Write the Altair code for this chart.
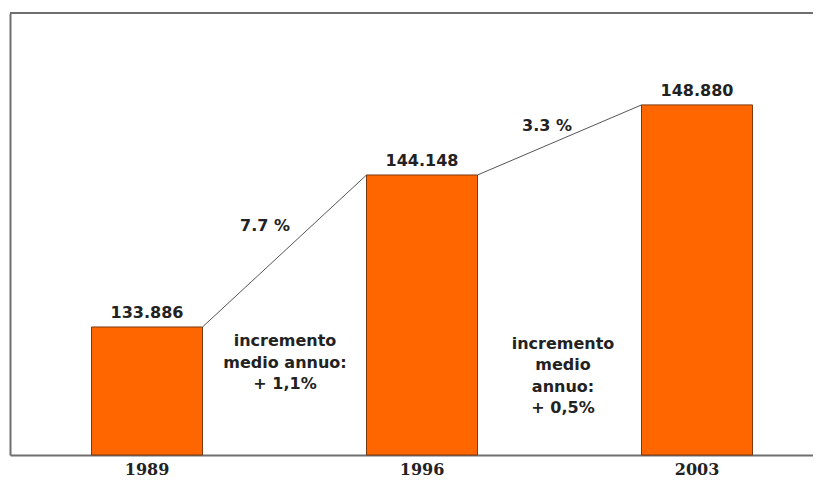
import altair as alt
import pandas as pd

years = ["1989", "1996", "2003"]
values = [133886, 144148, 148880]
value_labels = ["133.886", "144.148", "148.880"]

pct_labels = ["7.7 %", "3.3 %"]
pct_y = [140700, 147450]
pct_dx = [118, 125]

incr_labels = ["incremento\nmedio annuo:\n+ 1,1%", "incremento\nmedio\nannuo:\n+ 0,5%"]
incr_y = [132940, 132740]
incr_dx = [138, 141]

Y_MIN, Y_MAX = 125244, 155085
W, H = 803, 442
bars_df = pd.DataFrame({"year": years, "value": values, "label": value_labels})
seg_df = pd.DataFrame({
    "year": years[:-1], "year2": years[1:],
    "value": values[:-1], "value2": values[1:],
})

xscale = alt.Scale(domain=years, paddingInner=0.5964, paddingOuter=0.2582, align=0.574)
yscale = alt.Scale(domain=[Y_MIN, Y_MAX], zero=False, nice=False)

FONT = "DejaVu Sans"

x_enc = alt.X("year:N", scale=xscale, sort=years,
              axis=alt.Axis(title=None, ticks=False, labelAngle=0,
                            labelFont="DejaVu Serif", labelFontWeight="bold",
                            labelFontSize=16, labelColor="#222222", labelPadding=6,
                            domainColor="#6f6f6f", domainWidth=2))
y_enc = alt.Y("value:Q", scale=yscale,
              axis=alt.Axis(title=None, labels=False, ticks=False, grid=False,
                            domainColor="#6f6f6f", domainWidth=2))

bars = alt.Chart(bars_df).mark_bar(color="#ff6600", stroke="#7a3a10", strokeWidth=1).encode(
    x=x_enc, y=y_enc, y2=alt.datum(Y_MIN)
)

labels = alt.Chart(bars_df).mark_text(font=FONT, fontWeight="bold", fontSize=16,
                                      color="#222222", baseline="alphabetic", dy=-9).encode(
    x=alt.X("year:N", scale=xscale, sort=years), y=alt.Y("value:Q", scale=yscale), text="label:N"
)

segs = alt.Chart(seg_df).mark_rule(color="#555555", strokeWidth=1, xOffset=55.5, x2Offset=-55.5).encode(
    x=alt.X("year:N", scale=xscale, sort=years), x2="year2:N",
    y=alt.Y("value:Q", scale=yscale), y2="value2:Q"
)

layers = [bars, segs, labels]
for i in range(2):
    d = pd.DataFrame({"year": [years[i]], "y": [pct_y[i]], "t": [pct_labels[i]]})
    layers.append(alt.Chart(d).mark_text(font=FONT, fontWeight="bold", fontSize=16, color="#222222",
                                         baseline="middle", dx=pct_dx[i]).encode(
        x=alt.X("year:N", scale=xscale, sort=years), y=alt.Y("y:Q", scale=yscale), text="t:N"))
    d2 = pd.DataFrame({"year": [years[i]], "y": [incr_y[i]], "t": [incr_labels[i]]})
    layers.append(alt.Chart(d2).mark_text(font=FONT, fontWeight="bold", fontSize=16, color="#222222",
                                          baseline="middle", lineBreak="\n", lineHeight=21.5,
                                          dx=incr_dx[i]).encode(
        x=alt.X("year:N", scale=xscale, sort=years), y=alt.Y("y:Q", scale=yscale), text="t:N"))

top_line = alt.Chart(bars_df).mark_rule(color="#6f6f6f", strokeWidth=2).encode(
    x=alt.value(0), x2=alt.value(W + 20), y=alt.value(0)
)
layers.append(top_line)

chart = alt.layer(*layers).properties(
    width=W, height=H,
    autosize=alt.AutoSizeParams(type="none"),
    padding={"left": 2, "top": 5, "right": 0, "bottom": 23},
    background="white",
).configure_view(stroke=None)

chart.save("out.html", embed_options={"renderer": "svg", "actions": False})
